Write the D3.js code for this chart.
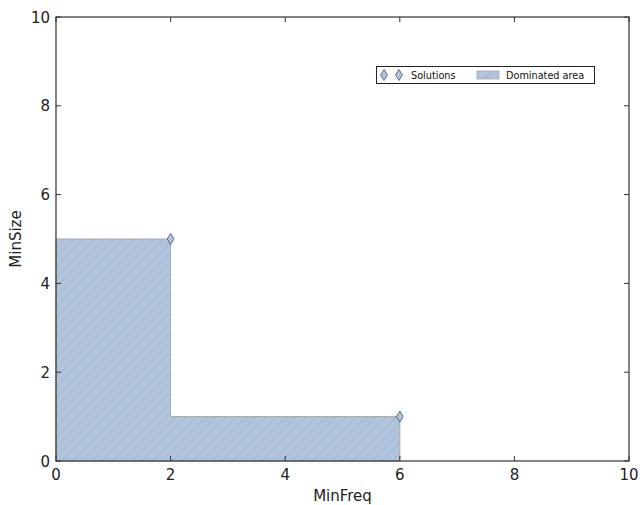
<!DOCTYPE html>
<html><head><meta charset="utf-8">
<script src="https://cdn.jsdelivr.net/npm/d3@7"></script>
<style>body{margin:0;background:#fff}svg{display:block}text{font-family:"DejaVu Sans",sans-serif}</style>
</head><body><svg id="c" width="640" height="505"></svg>
<script>
const solutionsX = [2, 6];
const solutionsY = [5, 1];
const xTicks = [0, 2, 4, 6, 8, 10];
const yTicks = [0, 2, 4, 6, 8, 10];
const xLabel = "MinFreq", yLabel = "MinSize";
const legendLabels = ["Solutions", "Dominated area"];

const svg = d3.select("#c");
const m = {l:56, r:629, t:17, b:461};
const x = d3.scaleLinear().domain([0,10]).range([m.l, m.r]);
const y = d3.scaleLinear().domain([0,10]).range([m.b, m.t]);

const pts = solutionsX.map((d,i)=>({x:d,y:solutionsY[i]}));
const stair = [[0,0],[0,pts[0].y]];
pts.forEach((p,i)=>{
  stair.push([p.x, p.y]);
  if (i < pts.length-1) stair.push([p.x, pts[i+1].y]);
});
stair.push([pts[pts.length-1].x, 0]);
const areaD = d3.line().x(d=>x(d[0])).y(d=>y(d[1]))(stair)+"Z";

const defs = svg.append("defs");
defs.append("clipPath").attr("id","ac").append("path").attr("d",areaD);

svg.append("path").attr("d", areaD).attr("fill","#b0c4de");
const hg = svg.append("g").attr("clip-path","url(#ac)");
const H = m.b - m.t, step = 10;
const offs = d3.range(m.l - H, m.r + 10, step);
hg.selectAll("line").data(offs).enter().append("line")
  .attr("x1",d=>d).attr("y1",m.b).attr("x2",d=>d+H).attr("y2",m.b-H)
  .attr("stroke","#a2aec0").attr("stroke-width",1);
svg.append("path").attr("d", areaD).attr("fill","none").attr("stroke","#a8a8a8").attr("stroke-width",1);

svg.append("rect").attr("x",m.l).attr("y",m.t).attr("width",m.r-m.l).attr("height",m.b-m.t)
  .attr("fill","none").attr("stroke","#333").attr("stroke-width",1.2);

const ax = svg.append("g").attr("stroke","#333").attr("stroke-width",1);
xTicks.forEach(t=>{
  ax.append("line").attr("x1",x(t)).attr("x2",x(t)).attr("y1",m.b).attr("y2",m.b-5);
  ax.append("line").attr("x1",x(t)).attr("x2",x(t)).attr("y1",m.t).attr("y2",m.t+5);
});
yTicks.forEach(t=>{
  ax.append("line").attr("y1",y(t)).attr("y2",y(t)).attr("x1",m.l).attr("x2",m.l+5);
  ax.append("line").attr("y1",y(t)).attr("y2",y(t)).attr("x1",m.r).attr("x2",m.r-5);
});
svg.selectAll(".xt").data(xTicks).enter().append("text").attr("x",d=>x(d)).attr("y",m.b+19)
  .attr("text-anchor","middle").attr("font-size",15).attr("fill","#222").text(d=>d);
svg.selectAll(".yt").data(yTicks).enter().append("text").attr("x",m.l-6).attr("y",d=>y(d)+5.5)
  .attr("text-anchor","end").attr("font-size",15).attr("fill","#222").text(d=>d);
svg.append("text").attr("x",(m.l+m.r)/2).attr("y",501).attr("text-anchor","middle")
  .attr("font-size",15).attr("fill","#222").text(xLabel);
svg.append("text").attr("transform",`translate(21,${(m.t+m.b)/2}) rotate(-90)`).attr("text-anchor","middle")
  .attr("font-size",15).attr("fill","#222").text(yLabel);

const diamond = (cx,cy,s) => `M${cx},${cy-s} L${cx+s*0.62},${cy} L${cx},${cy+s} L${cx-s*0.62},${cy} Z`;
pts.forEach(p=>{
  svg.append("path").attr("d",diamond(x(p.x),y(p.y),5.5)).attr("fill","#b0c4de").attr("stroke","#45556a").attr("stroke-width",0.8);
});

const lg = svg.append("g");
lg.append("rect").attr("x",376.5).attr("y",66.5).attr("width",218).attr("height",17)
  .attr("fill","#fff").attr("stroke","#222").attr("stroke-width",1);
[384,399].forEach(cx=>lg.append("path").attr("d",diamond(cx,75,5.5)).attr("fill","#b0c4de").attr("stroke","#45556a").attr("stroke-width",0.8));
lg.append("text").attr("x",411).attr("y",78.5).attr("font-size",9.7).attr("fill","#111").text(legendLabels[0]);
lg.append("rect").attr("x",477).attr("y",71).attr("width",22).attr("height",8).attr("fill","#b0c4de").attr("stroke","#a8a8a8").attr("stroke-width",0.8);
lg.append("line").attr("x1",485).attr("y1",78).attr("x2",492).attr("y2",72).attr("stroke","#9eaabb").attr("stroke-width",1);
lg.append("text").attr("x",506).attr("y",78.5).attr("font-size",9.7).attr("fill","#111").text(legendLabels[1]);
</script></body></html>
